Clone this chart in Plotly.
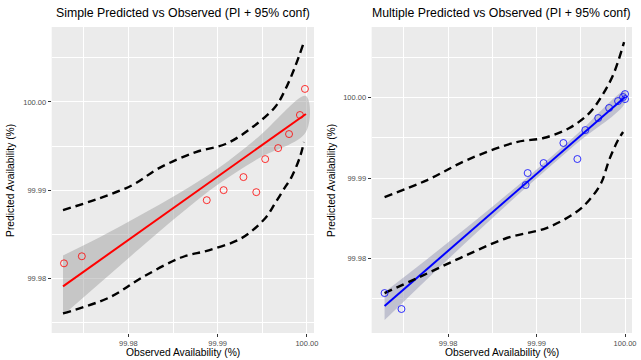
import plotly.graph_objects as go

# ---------------- Simple model (left) ----------------
s_obs = [99.97278, 99.97478, 99.98878, 99.99067, 99.99289, 99.99433, 99.99533,
         99.99678, 99.99800, 99.99922, 99.99978]
s_pred = [99.98170, 99.98250, 99.98886, 99.99000, 99.99148, 99.98977, 99.99352,
          99.99477, 99.99636, 99.99852, 100.00148]
s_fit_x = [99.97267, 99.99989]
s_fit_y = [99.97909, 99.99864]
s_band_x = [99.97267, 99.97678, 99.98122, 99.98567, 99.99011, 99.99456, 99.99989]
s_band_hi = [99.98260, 99.98466, 99.98710, 99.98965, 99.99252, 99.99603, 100.00068]
s_band_lo = [99.97580, 99.97943, 99.98335, 99.98719, 99.99070, 99.99358, 99.99659]
s_piu_x = [99.97267, 99.97678, 99.98044, 99.98344, 99.98756, 99.99089, 99.99378,
           99.99644, 99.99756, 99.99867, 99.99956]
s_piu_y = [99.98773, 99.98909, 99.99057, 99.99250, 99.99432, 99.99523, 99.99705,
           99.99943, 100.00136, 100.00398, 100.00648]
s_pil_x = [99.97267, 99.97789, 99.98156, 99.98600, 99.98900, 99.99267, 99.99533,
           99.99644, 99.99756, 99.99822, 99.99922, 99.99967]
s_pil_y = [99.97602, 99.97784, 99.98011, 99.98239, 99.98318, 99.98455, 99.98682,
           99.98852, 99.99034, 99.99136, 99.99375, 99.99545]

# ---------------- Multiple model (right) ----------------
m_obs = [99.97281, 99.97472, 99.98876, 99.98899, 99.99079, 99.99303, 99.99461,
         99.99551, 99.99697, 99.99820, 99.99921, 99.99978, 100.00000, 100.00000]
m_pred = [99.97571, 99.97373, 99.98913, 99.99062, 99.99186, 99.99435, 99.99236,
          99.99596, 99.99745, 99.99870, 99.99956, 100.00006, 100.00043, 99.99981]
m_fit_x = [99.97281, 100.00000]
m_fit_y = [99.97410, 100.00006]
m_band_x = [99.97281, 99.97764, 99.98326, 99.98888, 99.99449, 100.00000]
m_band_hi = [99.97584, 99.97995, 99.98488, 99.99000, 99.99537, 100.00081]
m_band_lo = [99.97236, 99.97747, 99.98327, 99.98888, 99.99425, 99.99932]
m_piu_x = [99.97281, 99.97764, 99.98213, 99.98775, 99.99079, 99.99371, 99.99596,
           99.99730, 99.99865, 99.99989]
m_piu_y = [99.98764, 99.98975, 99.99224, 99.99447, 99.99497, 99.99621, 99.99807,
           100.00006, 100.00279, 100.00689]
m_pil_x = [99.97281, 99.97652, 99.98135, 99.98663, 99.99112, 99.99449, 99.99596,
           99.99730, 99.99820, 99.99921, 99.99978]
m_pil_y = [99.97571, 99.97758, 99.98006, 99.98255, 99.98379, 99.98578, 99.98727,
           99.98938, 99.99224, 99.99472, 99.99571]

tick_vals = [99.98, 99.99, 100.00]
tick_text = ["99.98", "99.99", "100.00"]

titles = ["Simple Predicted vs Observed (PI + 95% conf)",
          "Multiple Predicted vs Observed (PI + 95% conf)"]
x_title = "Observed Availability (%)"
y_title = "Predicted Availability (%)"

fig = go.Figure()

FONT = "Liberation Sans, Arial, sans-serif"


def add_panel(xa, ya, obs, pred, fx, fy, bx, bhi, blo, pux, puy, plx, ply,
              color, band_color):
    fig.add_trace(go.Scatter(x=bx + bx[::-1], y=bhi + blo[::-1], fill="toself",
                             fillcolor=band_color, line=dict(width=0),
                             mode="lines", hoverinfo="skip", xaxis=xa, yaxis=ya,
                             line_shape="spline"))
    fig.add_trace(go.Scatter(x=fx, y=fy, mode="lines",
                             line=dict(color=color, width=2),
                             xaxis=xa, yaxis=ya))
    for px_, py_ in ((pux, puy), (plx, ply)):
        fig.add_trace(go.Scatter(x=px_, y=py_, mode="lines",
                                 line=dict(color="black", width=2.4,
                                           dash="8px,5px", shape="spline"),
                                 xaxis=xa, yaxis=ya))
    fig.add_trace(go.Scatter(x=obs, y=pred, mode="markers",
                             marker=dict(symbol="circle-open", size=7,
                                         color=color, line=dict(width=0.8)),
                             xaxis=xa, yaxis=ya))


add_panel("x", "y", s_obs, s_pred, s_fit_x, s_fit_y, s_band_x, s_band_hi,
          s_band_lo, s_piu_x, s_piu_y, s_pil_x, s_pil_y, "#FF0000",
          "rgba(153,153,153,0.45)")
add_panel("x2", "y2", m_obs, m_pred, m_fit_x, m_fit_y, m_band_x, m_band_hi,
          m_band_lo, m_piu_x, m_piu_y, m_pil_x, m_pil_y, "#0000FF",
          "rgba(150,152,180,0.5)")

axis_common = dict(showline=False, zeroline=False, gridcolor="white",
                   gridwidth=1.1, ticks="outside", ticklen=3, tickwidth=0.8,
                   tickcolor="#333333", tickfont=dict(size=7.5, color="#4d4d4d",
                                                      family=FONT),
                   tickvals=tick_vals, ticktext=tick_text,
                   minor=dict(showgrid=True, gridcolor="white", gridwidth=0.5,
                              tickvals=[99.965, 99.975, 99.985, 99.995, 100.005]))

fig.update_layout(
    width=641, height=360,
    margin=dict(l=0, r=0, t=0, b=0),
    paper_bgcolor="white", plot_bgcolor="#EBEBEB",
    showlegend=False,
    font=dict(family=FONT),
    xaxis=dict(domain=[52 / 641, 316 / 641], range=[99.9714, 100.0008],
               anchor="y", **axis_common),
    yaxis=dict(domain=[1 - 333 / 360, 1 - 27 / 360], range=[99.9738, 100.0085],
               anchor="x", **axis_common),
    xaxis2=dict(domain=[374 / 641, 636 / 641], range=[99.97135, 100.00079],
                anchor="y2", **axis_common),
    yaxis2=dict(domain=[1 - 333 / 360, 1 - 27 / 360], range=[99.97075, 100.00876],
                anchor="x2", **axis_common),
)

ann = []
for i, (cx, t) in enumerate([((52 + 316) / 2 / 641, titles[0]),
                              ((374 + 636) / 2 / 641, titles[1])]):
    ann.append(dict(text=t, x=cx, y=1 - 13 / 360, xref="paper", yref="paper",
                    showarrow=False, xanchor="center", yanchor="middle",
                    font=dict(size=12.3, color="black", family=FONT)))
    ann.append(dict(text=x_title, x=cx, y=1 - 352 / 360, xref="paper",
                    yref="paper", showarrow=False, xanchor="center",
                    yanchor="middle",
                    font=dict(size=10.3, color="black", family=FONT)))
for xpx in (10, 333):
    ann.append(dict(text=y_title, x=xpx / 641, y=1 - 180 / 360, xref="paper",
                    yref="paper", showarrow=False, textangle=-90,
                    xanchor="center", yanchor="middle",
                    font=dict(size=10.3, color="black", family=FONT)))
fig.update_layout(annotations=ann)

fig.write_html("out.html",
               config={"displayModeBar": False},
               post_script="document.body.style.margin='0';"
                           "document.body.style.padding='0';")
